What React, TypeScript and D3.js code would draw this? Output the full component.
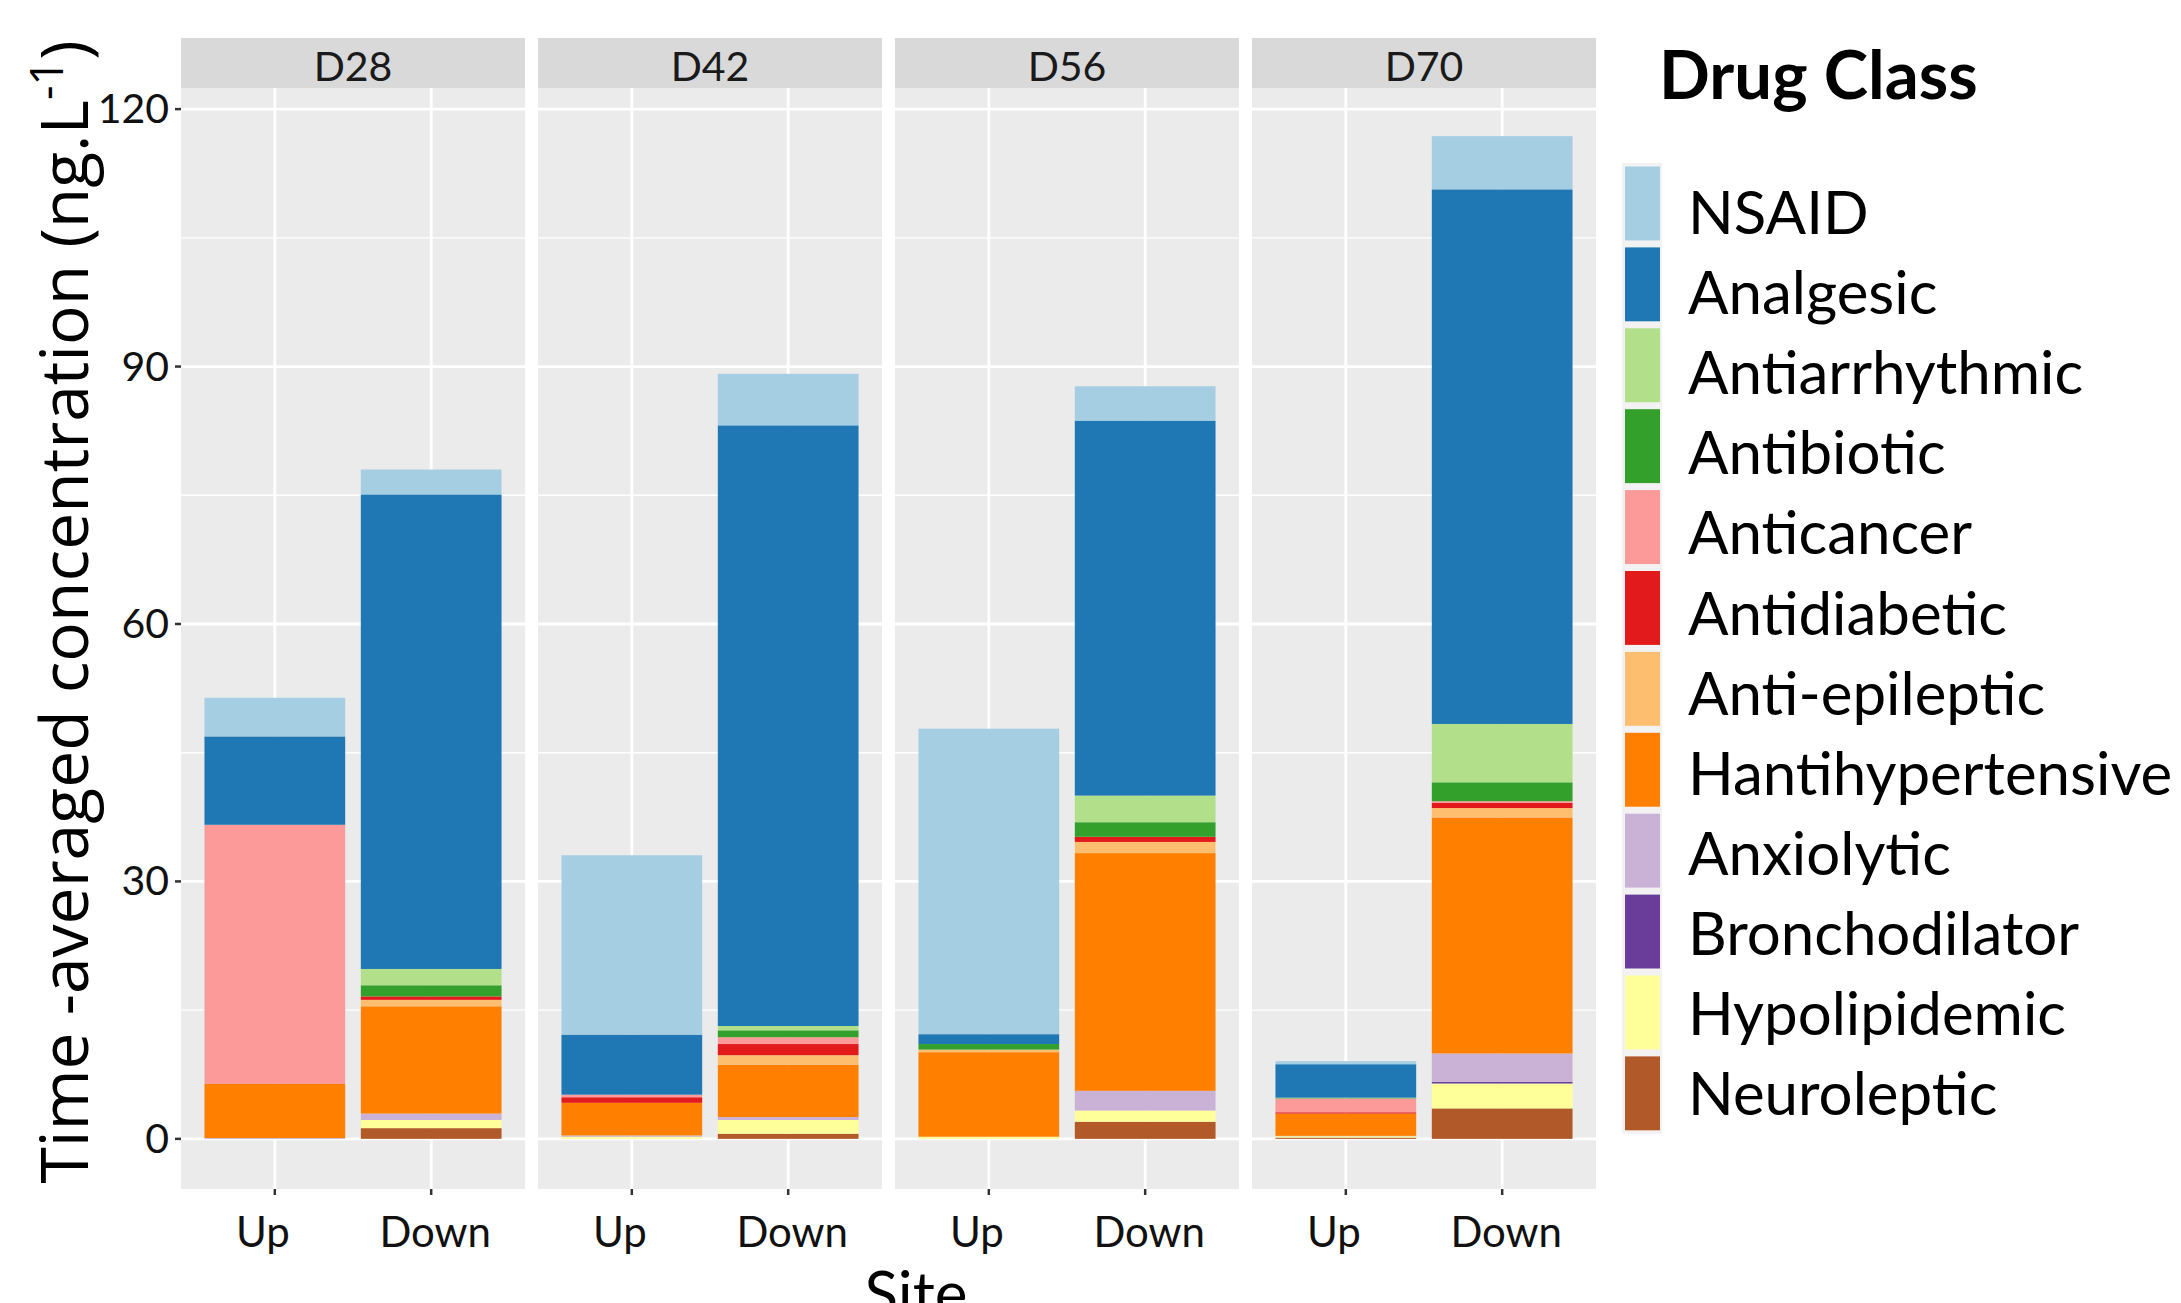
import * as d3 from 'd3'
import React from 'react'

// facets, sites and drug classes (legend order, top of stack first)
const days = ['D28', 'D42', 'D56', 'D70']
const sites = ['Up', 'Down']
const drugClasses = [
  'NSAID',
  'Analgesic',
  'Antiarrhythmic',
  'Antibiotic',
  'Anticancer',
  'Antidiabetic',
  'Anti-epileptic',
  'Hantihypertensive',
  'Anxiolytic',
  'Bronchodilator',
  'Hypolipidemic',
  'Neuroleptic',
]

// values in ng/L, order: D28 Up, D28 Down, D42 Up, D42 Down, D56 Up, D56 Down, D70 Up, D70 Down
const nsaid = [4.5, 2.9, 20.9, 6.0, 35.6, 4.0, 0.35, 6.2]
const analgesic = [10.3, 55.3, 7.0, 70.0, 1.15, 43.7, 3.9, 62.3]
const antiarrhythmic = [0, 1.9, 0, 0.5, 0, 3.1, 0.05, 6.8]
const antibiotic = [0, 1.3, 0, 0.8, 0.65, 1.7, 0.05, 2.2]
const anticancer = [30.2, 0, 0.3, 0.8, 0, 0, 1.6, 0.2]
const antidiabetic = [0, 0.4, 0.65, 1.3, 0, 0.6, 0.15, 0.6]
const antiEpileptic = [0, 0.75, 0, 1.1, 0.3, 1.3, 0, 1.1]
const antihypertensive = [6.3, 12.5, 3.8, 6.1, 9.85, 27.7, 2.6, 27.5]
const anxiolytic = [0.1, 0.75, 0.15, 0.35, 0, 2.3, 0.05, 3.3]
const bronchodilator = [0, 0, 0, 0, 0, 0, 0, 0.2]
const hypolipidemic = [0, 0.95, 0.25, 1.6, 0.25, 1.3, 0.15, 2.9]
const neuroleptic = [0, 1.25, 0, 0.6, 0, 2.0, 0.15, 3.55]

const seriesValues = [
  nsaid,
  analgesic,
  antiarrhythmic,
  antibiotic,
  anticancer,
  antidiabetic,
  antiEpileptic,
  antihypertensive,
  anxiolytic,
  bronchodilator,
  hypolipidemic,
  neuroleptic,
]

const yTicks = [0, 30, 60, 90, 120]
const yMinorTicks = [15, 45, 75, 105]

const W = 2181
const H = 1303
const FONT = 'Lato, "Open Sans", sans-serif'

export default function App() {
  const panelLeft = 181
  const panelW = 344
  const panelGap = 13
  const stripTop = 38
  const stripH = 50
  const panelTop = 86
  const panelBottom = 1189

  const color = d3.scaleOrdinal<string, string>().domain(drugClasses).range(d3.schemePaired)

  // one row per bar
  const rows = days.flatMap((day, di) =>
    sites.map((site, si) => {
      const row: any = { day, site }
      drugClasses.forEach((c, ci) => (row[c] = seriesValues[ci][di * 2 + si]))
      return row
    })
  )

  // stack bottom-up: last legend entry sits at the bottom
  const stack = d3.stack<any>().keys([...drugClasses].reverse())
  const layers = stack(rows)
  const maxTotal = d3.max(rows, (r) => d3.sum(drugClasses, (c) => r[c])) as number
  const pad = maxTotal * 0.05

  const y = d3.scaleLinear().domain([-pad, maxTotal + pad]).range([panelBottom, panelTop])
  const x = d3.scaleBand().domain(sites).range([0, panelW]).paddingInner(0.1).paddingOuter(0.15)
  const panelX = (i: number) => panelLeft + i * (panelW + panelGap)

  const legendX = 1622
  const keyTop = 163
  const keyPitch = 80.9

  return (
    <svg
      width={W}
      height={H}
      style={{ position: 'absolute', left: 0, top: 0, background: '#fff' }}
      fontFamily={FONT}
    >
      {days.map((day, di) => {
        const px = panelX(di)
        return (
          <g key={day} transform={`translate(${px},0)`}>
            {/* panel background + grid */}
            <rect x={0} y={panelTop} width={panelW} height={panelBottom - panelTop} fill="#EBEBEB" />
            {yMinorTicks.map((t) => (
              <line key={t} x1={0} x2={panelW} y1={y(t)} y2={y(t)} stroke="#fff" strokeWidth={1.4} />
            ))}
            {yTicks.map((t) => (
              <line key={t} x1={0} x2={panelW} y1={y(t)} y2={y(t)} stroke="#fff" strokeWidth={2.8} />
            ))}
            {sites.map((s) => {
              const cx = (x(s) as number) + x.bandwidth() / 2
              return (
                <g key={s}>
                  <line x1={cx} x2={cx} y1={panelTop} y2={panelBottom} stroke="#fff" strokeWidth={2.8} />
                  <line x1={cx} x2={cx} y1={panelBottom} y2={panelBottom + 6} stroke="#333" strokeWidth={2.5} />
                  <text
                    x={cx + (s === 'Up' ? -12 : 4)}
                    y={1247}
                    textAnchor="middle"
                    fontSize={42}
                    fill="#111"
                  >
                    {s}
                  </text>
                </g>
              )
            })}
            {/* bars */}
            {layers.map((layer) => (
              <g key={layer.key} fill={color(layer.key)}>
                {layer
                  .filter((d) => d.data.day === day && d[1] - d[0] > 0)
                  .map((d) => (
                    <rect
                      key={d.data.site}
                      x={x(d.data.site)}
                      width={x.bandwidth()}
                      y={y(d[1])}
                      height={y(d[0]) - y(d[1])}
                    />
                  ))}
              </g>
            ))}
            {/* strip */}
            <rect x={0} y={stripTop} width={panelW} height={stripH} fill="#D9D9D9" />
            <text x={panelW / 2} y={stripTop + 43} textAnchor="middle" fontSize={41} fill="#1A1A1A">
              {day}
            </text>
          </g>
        )
      })}

      {/* y axis */}
      {yTicks.map((t) => (
        <g key={t}>
          <line x1={panelLeft - 6} x2={panelLeft} y1={y(t)} y2={y(t)} stroke="#333" strokeWidth={2.5} />
          <text x={panelLeft - 12} y={y(t) + 14} textAnchor="end" fontSize={41} fill="#111">
            {t}
          </text>
        </g>
      ))}

      {/* axis titles */}
      <text
        transform={`translate(88,${612}) rotate(-90)`}
        textAnchor="middle"
        fontSize={66}
        fontFamily='"Open Sans", sans-serif'
        fill="#000"
      >
        Time -averaged concentration (ng.L
        <tspan dy={-25} fontSize={45}>
          -1
        </tspan>
        <tspan dy={25}>)</tspan>
      </text>
      <text x={916} y={1316} textAnchor="middle" fontSize={62} fill="#000">
        Site
      </text>

      {/* legend */}
      <text x={1659} y={99} fontSize={67} fontWeight="bold" fill="#000">
        Drug Class
      </text>
      {drugClasses.map((c, i) => (
        <g key={c}>
          <rect x={legendX} y={keyTop + i * keyPitch} width={40} height={keyPitch} fill="#F2F2F2" />
          <rect
            x={legendX + 3}
            y={keyTop + i * keyPitch + 3.5}
            width={35}
            height={keyPitch - 7}
            fill={color(c)}
          />
          <text x={1688} y={234 + i * 80.1} fontSize={60} fill="#000">
            {c}
          </text>
        </g>
      ))}
    </svg>
  )
}
